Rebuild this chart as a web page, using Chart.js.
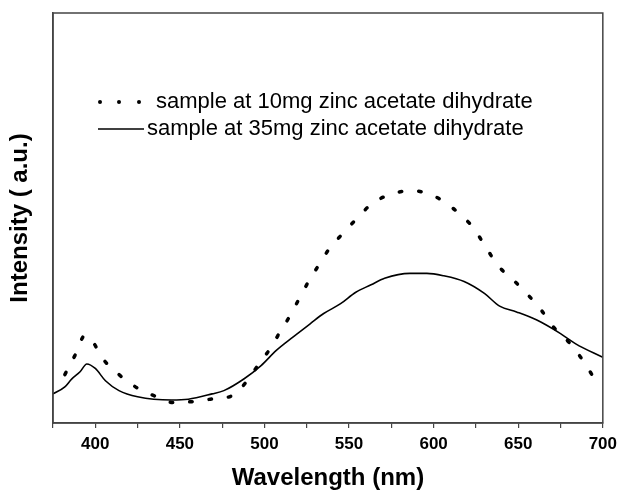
<!DOCTYPE html>
<html lang="en">
<head>
  <meta charset="UTF-8">
  <title>Intensity vs Wavelength</title>
  <script src="https://cdn.jsdelivr.net/npm/chart.js"></script>
  <style>
    html, body { margin: 0; padding: 0; background: #fff; }
    .chart-container { width: 623px; height: 493px; }
  </style>
</head>
<body>
  <div class="chart-container">
    <canvas id="plChart"></canvas>
  </div>

<script>
// wavelength (nm) / intensity (a.u.)
const wl10 = [382, 388, 394, 398, 405, 414, 425, 435, 446, 457, 468, 481, 490, 497, 505, 508, 515, 521, 527, 531, 538, 546, 554, 563, 576, 588, 600, 611, 621, 624, 631, 638, 647, 655, 664, 670, 680, 688, 694];
const int10 = [11.8, 16.5, 21.4, 20.1, 15.4, 11.8, 8.5, 6.6, 5.0, 5.2, 5.8, 6.7, 10.4, 14.6, 19.1, 21.4, 26.1, 30.7, 35.2, 37.8, 42.3, 46.1, 49.6, 53.3, 56.0, 56.6, 55.4, 52.5, 48.8, 47.3, 42.8, 38.4, 34.9, 31.6, 27.3, 23.8, 19.7, 15.4, 11.5];

const wl35 = [375, 382, 386, 391, 395, 400, 406, 414, 425, 445, 455, 469, 476, 488, 498, 507, 517, 527, 535, 545, 554, 563, 571, 586, 596, 606, 618, 630, 639, 649, 661, 675, 684, 700];
const int35 = [7.1, 8.8, 10.7, 12.5, 14.4, 13.3, 10.3, 7.9, 6.4, 5.6, 5.8, 7.1, 7.9, 10.8, 14.0, 17.7, 21.0, 24.2, 26.7, 29.1, 31.9, 33.7, 35.3, 36.5, 36.5, 35.9, 34.5, 31.6, 28.5, 27.1, 25.1, 21.8, 19.3, 16.0];

const xTickLabels = [400, 450, 500, 550, 600, 650, 700];
const seriesNames = ['sample at 10mg zinc acetate dihydrate', 'sample at 35mg zinc acetate dihydrate'];

const toPoints = (xs, ys) => xs.map((x, i) => ({ x: x, y: ys[i] }));
const FONT = 'Arial, "Liberation Sans", sans-serif';

// frame round the plot area
const framePlugin = {
  id: 'frame',
  afterDraw(chart) {
    const a = chart.chartArea, ctx = chart.ctx;
    ctx.save();
    ctx.strokeStyle = '#444';
    ctx.lineWidth = 1.5;
    ctx.strokeRect(a.left, a.top, a.right - a.left, a.bottom - a.top);
    ctx.restore();
  }
};

// legend drawn inside the plot, like the original
const insideLegend = {
  id: 'insideLegend',
  afterDraw(chart) {
    const a = chart.chartArea, ctx = chart.ctx;
    ctx.save();
    ctx.fillStyle = '#000';
    ctx.strokeStyle = '#000';
    ctx.font = '22px ' + FONT;
    ctx.textBaseline = 'middle';
    const y1 = a.top + 89, y2 = a.top + 116;
    [a.left + 47, a.left + 66, a.left + 86].forEach(x => {
      ctx.beginPath();
      ctx.arc(x, y1, 2, 0, Math.PI * 2);
      ctx.fill();
    });
    ctx.fillText(seriesNames[0], a.left + 103, y1);
    ctx.lineWidth = 1.5;
    ctx.beginPath();
    ctx.moveTo(a.left + 45, y2);
    ctx.lineTo(a.left + 91, y2);
    ctx.stroke();
    ctx.fillText(seriesNames[1], a.left + 94, y2);
    ctx.restore();
  }
};

new Chart(document.getElementById('plChart'), {
  type: 'line',
  data: {
    datasets: [
      {
        label: seriesNames[0],
        data: toPoints(wl10, int10),
        borderColor: '#000',
        borderWidth: 3.5,
        borderDash: [2.5, 17],
        borderCapStyle: 'round',
        pointRadius: 0,
        cubicInterpolationMode: 'monotone',
        fill: false
      },
      {
        label: seriesNames[1],
        data: toPoints(wl35, int35),
        borderColor: '#000',
        borderWidth: 1.6,
        pointRadius: 0,
        cubicInterpolationMode: 'monotone',
        fill: false
      }
    ]
  },
  options: {
    responsive: true,
    maintainAspectRatio: false,
    animation: false,
    layout: { padding: { top: 13, right: 17, left: 0, bottom: 0 } },
    plugins: {
      legend: { display: false },
      tooltip: { enabled: false }
    },
    scales: {
      x: {
        type: 'linear',
        min: 375,
        max: 700,
        afterFit(scale) { scale.height = 70; },
        afterBuildTicks(scale) {
          const t = [];
          for (let v = 375; v <= 700; v += 25) t.push({ value: v });
          scale.ticks = t;
        },
        grid: { drawOnChartArea: false, tickLength: 5, color: '#444', lineWidth: 1.2 },
        border: { color: '#444', width: 1.5 },
        ticks: {
          color: '#000',
          padding: 6,
          maxRotation: 0,
          autoSkip: false,
          font: { family: FONT, size: 17, weight: 'bold' },
          callback: v => xTickLabels.includes(v) ? String(v) : ''
        },
        title: {
          display: true,
          text: 'Wavelength (nm)',
          color: '#000',
          padding: { top: 0, bottom: 0 },
          font: { family: FONT, size: 24, weight: 'bold' }
        }
      },
      y: {
        min: 0,
        max: 100,
        afterFit(scale) { scale.width = 53; },
        grid: { display: false },
        border: { color: '#444', width: 1.5 },
        ticks: { display: false },
        title: {
          display: true,
          text: 'Intensity ( a.u.)',
          color: '#000',
          padding: { top: 6, bottom: 0 },
          font: { family: FONT, size: 24, weight: 'bold' }
        }
      }
    }
  },
  plugins: [framePlugin, insideLegend]
});
</script>
</body>
</html>
